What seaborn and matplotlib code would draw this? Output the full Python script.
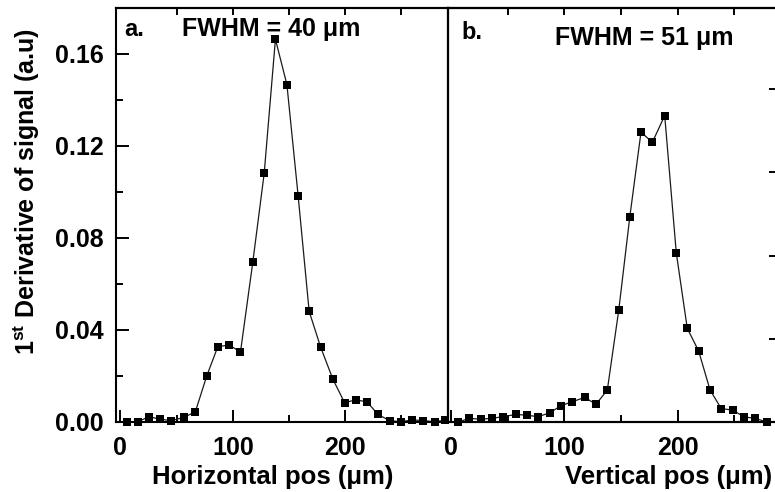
import matplotlib
matplotlib.use("Agg")
import matplotlib.pyplot as plt
import seaborn as sns
from matplotlib.ticker import MultipleLocator, FormatStrFormatter

# ---- data ----
h_pos = [5.6, 15.4, 25.5, 35.3, 45.3, 56.6, 66.7, 76.8, 86.6, 96.7, 106.8, 117.8,
         127.9, 137.9, 148.1, 158.1, 167.9, 178.0, 189.0, 199.4, 209.2, 219.3,
         229.1, 239.4, 249.6, 259.4, 269.5, 279.5, 289.0]
h_sig = [0.0001, 0.0001, 0.0023, 0.0012, 0.0006, 0.0020, 0.0045, 0.0200, 0.0327,
         0.0335, 0.0304, 0.0696, 0.1081, 0.1664, 0.1467, 0.0983, 0.0481, 0.0327,
         0.0186, 0.0084, 0.0096, 0.0088, 0.0033, 0.0006, 0.0001, 0.0009, 0.0006,
         0.0001, 0.0008]

v_pos = [6.5, 16.2, 26.3, 36.0, 46.0, 57.4, 67.4, 77.0, 87.1, 97.1, 107.0, 118.0,
         127.9, 137.9, 148.0, 157.7, 167.6, 177.6, 188.5, 198.7, 208.4, 218.4,
         228.5, 238.4, 248.5, 258.4, 268.1, 278.4]
v_sig = [0.0000, 0.0016, 0.0012, 0.0016, 0.0023, 0.0033, 0.0029, 0.0023, 0.0040,
         0.0071, 0.0088, 0.0107, 0.0077, 0.0139, 0.0487, 0.0891, 0.1260, 0.1216,
         0.1332, 0.0736, 0.0407, 0.0309, 0.0139, 0.0058, 0.0052, 0.0022, 0.0016,
         0.0000]

panel_tags = ["a.", "b."]
fwhm_texts = ["FWHM = 40 \u03bcm", "FWHM = 51 \u03bcm"]
x_labels = ["Horizontal pos (\u03bcm)", "Vertical pos (\u03bcm)"]
y_label = r"1$^{\mathbf{st}}$ Derivative of signal (a.u)"

sns.set_theme(style="ticks")
plt.rcParams["font.family"] = ["Liberation Sans", "DejaVu Sans"]
plt.rcParams["font.weight"] = "bold"
plt.rcParams["mathtext.fontset"] = "custom"
plt.rcParams["mathtext.rm"] = "Liberation Sans:bold"
plt.rcParams["mathtext.bf"] = "Liberation Sans:bold"
plt.rcParams["mathtext.it"] = "Liberation Sans:bold"
plt.rcParams["axes.linewidth"] = 1.5
plt.rcParams["axes.edgecolor"] = "black"
plt.rcParams["text.color"] = "black"
plt.rcParams["axes.labelcolor"] = "black"
plt.rcParams["xtick.color"] = "black"
plt.rcParams["ytick.color"] = "black"

fig = plt.figure(figsize=(7.75, 4.92), dpi=100)
axL = fig.add_axes([0.1497, 0.1423, 0.4288, 0.8415])
axR = fig.add_axes([0.5785, 0.1423, 0.4277, 0.8415])
axR.patch.set_visible(False)
twin = axR.twinx()
twin.patch.set_visible(False)

style = dict(color="#1a1a1a", linewidth=0.9, marker="s", markersize=5.6,
             markerfacecolor="black", markeredgecolor="black", markeredgewidth=0,
             clip_on=False)

sns.lineplot(x=h_pos, y=h_sig, ax=axL, sort=False, **style)
sns.lineplot(x=v_pos, y=v_sig, ax=axR, sort=False, **style)

axL.set_xlim(-3.9, 291.7)
axR.set_xlim(-2.3, 290)
for ax in (axL, axR):
    ax.set_ylim(0, 0.18)
    ax.xaxis.set_major_locator(MultipleLocator(100))
    ax.xaxis.set_minor_locator(MultipleLocator(50))
    ax.yaxis.set_major_locator(MultipleLocator(0.04))
    ax.yaxis.set_minor_locator(MultipleLocator(0.02))
    ax.yaxis.set_major_formatter(FormatStrFormatter("%.2f"))
    ax.tick_params(which="major", direction="in", length=9, width=1.4,
                   labelsize=18, colors="black")
    ax.tick_params(axis="x", which="major", pad=10)
    ax.tick_params(axis="y", which="major", pad=9)
    ax.tick_params(which="minor", direction="in", length=5, width=1.4)
    ax.tick_params(axis="x", which="both", top=False)
    ax.tick_params(axis="y", which="both", right=False)
    for s in ax.spines.values():
        s.set_visible(True)
        s.set_linewidth(1.5)
    sec = ax.secondary_xaxis("top")
    sec.set_xticks([50, 100, 150, 200, 250])
    sec.tick_params(direction="in", length=5, width=1.4, labeltop=False)
    sec.spines["top"].set_linewidth(1.5)

axR.tick_params(axis="y", which="both", left=False, right=False,
                labelleft=False, labelright=False)

twin.set_ylim(0, 0.199)
twin.set_yticks([0.04, 0.08, 0.12, 0.16])
twin.tick_params(axis="y", which="both", direction="in", length=8, width=1.4,
                 labelright=False, left=False, labelleft=False)
twin.yaxis.set_minor_locator(MultipleLocator(1))
for s in twin.spines.values():
    s.set_linewidth(1.5)

axL.set_ylabel(y_label, fontsize=18, fontweight="bold")
axL.yaxis.set_label_coords(-0.223, 0.556)

axL.set_xlabel(x_labels[0], fontsize=18.5, fontweight="bold")
axL.xaxis.set_label_coords(0.471, -0.104)
axR.set_xlabel(x_labels[1], fontsize=18.5, fontweight="bold")
axR.xaxis.set_label_coords(0.664, -0.104)

axL.text(0.055, 0.948, panel_tags[0], transform=axL.transAxes, ha="center",
         va="center", fontsize=17, fontweight="bold")
axL.text(0.467, 0.948, fwhm_texts[0], transform=axL.transAxes, ha="center",
         va="center", fontsize=18, fontweight="bold")
axR.text(0.071, 0.94, panel_tags[1], transform=axR.transAxes, ha="center",
         va="center", fontsize=17, fontweight="bold")
axR.text(0.59, 0.928, fwhm_texts[1], transform=axR.transAxes, ha="center",
         va="center", fontsize=18, fontweight="bold")

fig.savefig("out.png", dpi=100)
